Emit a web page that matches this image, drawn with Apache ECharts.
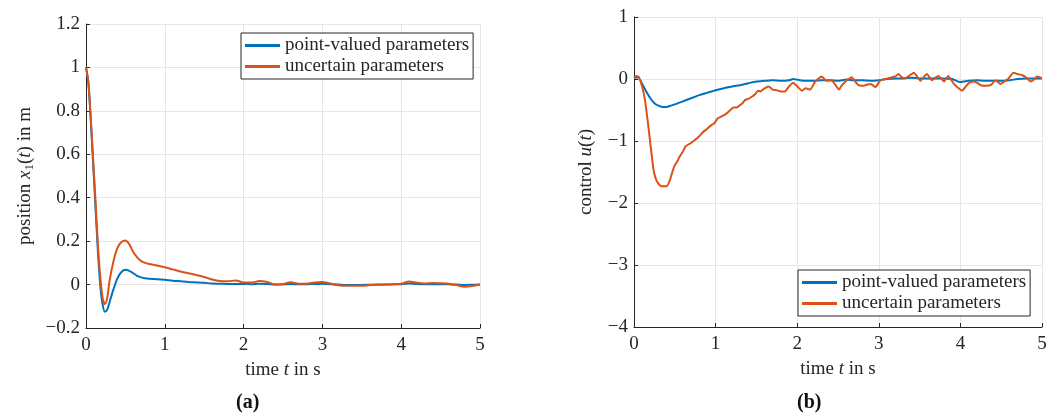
<!DOCTYPE html>
<html>
<head>
<meta charset="utf-8">
<script src="https://cdn.jsdelivr.net/npm/echarts@6/dist/echarts.min.js"></script>
<style>
  html, body { margin: 0; padding: 0; background: #fff; }
  #chart { width: 1057px; height: 417px; }
</style>
</head>
<body>
<div id="chart"></div>
<script>
// (a) position x1(t) over time
const timePos = [0, 0.03, 0.06, 0.09, 0.12, 0.15, 0.18, 0.21, 0.24, 0.27, 0.3, 0.35, 0.4, 0.45, 0.5, 0.55, 0.6, 0.65, 0.7, 0.75, 0.8, 0.9,
  1.0, 1.1, 1.2, 1.3, 1.4, 1.5, 1.6, 1.7, 1.8, 1.9, 2.0, 2.1, 2.2, 2.3, 2.4, 2.5, 2.6, 2.7, 2.8, 2.9,
  3.0, 3.1, 3.2, 3.3, 3.4, 3.5, 3.6, 3.7, 3.8, 3.9, 4.0, 4.1, 4.2, 4.3, 4.4, 4.5, 4.6, 4.7, 4.8, 4.9, 5.0];
const posPointValued = [1.0, 0.93, 0.76, 0.56, 0.36, 0.16, 0.0, -0.09, -0.125, -0.115, -0.08, -0.02, 0.03, 0.058, 0.068, 0.063, 0.052, 0.04, 0.033, 0.029, 0.027, 0.025,
  0.022, 0.018, 0.015, 0.012, 0.01, 0.008, 0.005, 0.004, 0.003, 0.003, 0.003, 0.002, 0.004, 0.003, 0.0, 0.001, 0.003, 0.001, 0.001, 0.003,
  0.004, 0.002, 0.0, -0.002, -0.002, -0.002, -0.001, 0.0, 0.0, 0.001, 0.002, 0.005, 0.003, 0.002, 0.002, 0.002, 0.001, 0.0, -0.002, -0.001, 0.0];
const posUncertain = [1.0, 0.93, 0.77, 0.58, 0.39, 0.19, 0.04, -0.06, -0.09, -0.06, 0.02, 0.11, 0.17, 0.196, 0.203, 0.185, 0.15, 0.125, 0.108, 0.1, 0.095, 0.088,
  0.08, 0.07, 0.06, 0.052, 0.044, 0.035, 0.023, 0.016, 0.015, 0.019, 0.01, 0.009, 0.016, 0.012, 0.0, 0.002, 0.011, 0.004, 0.004, 0.01,
  0.012, 0.005, -0.003, -0.006, -0.005, -0.006, -0.002, -0.001, 0.0, 0.001, 0.004, 0.014, 0.008, 0.005, 0.007, 0.006, 0.004, -0.002, -0.01, -0.007, 0.0];

// (b) control u(t) over time
const timeCtrlPoint = [0, 0.05, 0.1, 0.15, 0.2, 0.25, 0.3, 0.35, 0.4, 0.45, 0.5, 0.6, 0.7, 0.8, 0.9, 1.0, 1.1, 1.2, 1.3, 1.4, 1.5, 1.6, 1.7, 1.8, 1.9, 1.95,
  2.0, 2.1, 2.2, 2.3, 2.4, 2.5, 2.6, 2.7, 2.8, 2.9, 3.0, 3.1, 3.2, 3.3, 3.4, 3.5, 3.6, 3.7, 3.8, 3.9, 4.0, 4.1, 4.2, 4.3, 4.4, 4.5, 4.6, 4.7, 4.8, 4.9, 5.0];
const ctrlPointValued = [0.02, 0.03, -0.08, -0.2, -0.31, -0.39, -0.43, -0.45, -0.45, -0.43, -0.41, -0.36, -0.31, -0.26, -0.22, -0.18, -0.15, -0.12, -0.1, -0.07, -0.04, -0.03, -0.02, -0.03, -0.02, 0.0,
  -0.01, -0.03, -0.03, -0.02, -0.02, -0.03, -0.01, -0.02, -0.02, -0.03, -0.02, 0.0, 0.01, 0.01, 0.02, 0.01, 0.01, 0.01, 0.01, 0.0, -0.05, -0.03, -0.02, -0.03, -0.03, -0.03, -0.02, 0.0, 0.01, 0.01, 0.01];
const timeCtrlUncertain = [0, 0.03, 0.06, 0.1, 0.135, 0.17, 0.2, 0.24, 0.27, 0.3, 0.34, 0.4, 0.44, 0.47, 0.5, 0.53, 0.56, 0.6, 0.63, 0.66, 0.69, 0.73, 0.77, 0.81, 0.85, 0.9, 0.95, 0.98,
  1.03, 1.08, 1.14, 1.18, 1.22, 1.26, 1.3, 1.33, 1.36, 1.4, 1.44, 1.48, 1.52, 1.55, 1.6, 1.65, 1.7, 1.75, 1.8, 1.85, 1.9, 1.95,
  2.0, 2.06, 2.1, 2.16, 2.22, 2.3, 2.36, 2.42, 2.46, 2.51, 2.55, 2.59, 2.67, 2.71, 2.75, 2.8, 2.86, 2.9, 2.96,
  3.02, 3.08, 3.14, 3.2, 3.24, 3.28, 3.32, 3.38, 3.43, 3.47, 3.51, 3.55, 3.59, 3.65, 3.69, 3.73, 3.8, 3.85, 3.92, 3.97,
  4.02, 4.06, 4.1, 4.16, 4.2, 4.25, 4.31, 4.37, 4.43, 4.49, 4.55, 4.59, 4.65, 4.7, 4.76, 4.81, 4.86, 4.9, 4.94, 5.0];
const ctrlUncertain = [0.02, 0.05, 0.03, -0.12, -0.34, -0.7, -1.04, -1.47, -1.62, -1.69, -1.73, -1.73, -1.63, -1.5, -1.39, -1.33, -1.25, -1.17, -1.09, -1.06, -1.04, -1.0, -0.96, -0.91, -0.85, -0.8, -0.74, -0.72,
  -0.63, -0.6, -0.55, -0.5, -0.46, -0.46, -0.42, -0.39, -0.34, -0.32, -0.29, -0.25, -0.19, -0.2, -0.15, -0.12, -0.17, -0.18, -0.2, -0.2, -0.12, -0.06,
  -0.12, -0.19, -0.15, -0.17, -0.04, 0.04, -0.03, -0.02, -0.08, -0.17, -0.1, -0.04, 0.03, -0.04, -0.1, -0.11, -0.09, -0.08, -0.13,
  -0.02, 0.0, 0.02, 0.04, 0.08, 0.03, 0.01, 0.06, 0.1, 0.04, -0.03, 0.03, 0.08, -0.02, 0.02, 0.05, -0.04, 0.05, -0.08, -0.14,
  -0.19, -0.13, -0.07, -0.04, -0.06, -0.1, -0.11, -0.1, -0.02, -0.08, -0.03, 0.01, 0.1, 0.08, 0.06, 0.02, -0.04, -0.01, 0.04, 0.01];

const seriesNames = ['point-valued parameters', 'uncertain parameters'];
const xTicks = { min: 0, max: 5, interval: 1 };
const yTicksPos = { min: -0.2, max: 1.2, interval: 0.2 };
const yTicksCtrl = { min: -4, max: 1, interval: 1 };

const BLUE = '#0072BD';
const ORANGE = '#D95319';
const INK = '#262626';
const GRID = '#e6e6e6';
const SERIF = '"Liberation Serif", "DejaVu Serif", serif';
const FS = 19;

const zip = (xs, ys) => xs.map((x, i) => [x, ys[i]]);
const fmt = v => {
  const n = parseFloat(Number(v).toFixed(2));
  return n < 0 ? '\u2212' + String(-n) : String(n);
};

const richBase = {
  i: { fontStyle: 'italic', fontFamily: SERIF, fontSize: FS, color: INK, lineHeight: 22 },
  r: { fontFamily: SERIF, fontSize: FS, color: INK, lineHeight: 22 },
  s: { fontFamily: SERIF, fontSize: 13, color: INK, lineHeight: 12, verticalAlign: 'bottom' }
};

function xAxis(gridIndex) {
  return {
    type: 'value', gridIndex, ...xTicks,
    name: '{r|time }{i|t}{r| in s}', nameLocation: 'middle', nameGap: 31,
    nameTextStyle: { rich: richBase },
    axisLine: { show: true, onZero: false, lineStyle: { color: INK, width: 1 } },
    axisTick: { show: true, inside: true, length: 4, lineStyle: { color: INK } },
    axisLabel: { margin: 8, fontFamily: SERIF, fontSize: FS, color: INK, formatter: fmt },
    splitLine: { show: true, lineStyle: { color: GRID, width: 1 } }
  };
}
function yAxis(gridIndex, ticks, name, gap) {
  return {
    type: 'value', gridIndex, ...ticks,
    name, nameLocation: 'middle', nameGap: gap, nameRotate: 90,
    nameTextStyle: { rich: richBase },
    axisLine: { show: true, onZero: false, lineStyle: { color: INK, width: 1 } },
    axisTick: { show: true, inside: true, length: 4, lineStyle: { color: INK } },
    axisLabel: { margin: 6, fontFamily: SERIF, fontSize: FS, color: INK, formatter: fmt },
    splitLine: { show: true, lineStyle: { color: GRID, width: 1 } }
  };
}
function legend(left, top) {
  return {
    data: seriesNames, orient: 'vertical', left, top,
    padding: [3, 4, 3, 4], itemGap: 2, itemWidth: 35, itemHeight: 3, icon: 'rect',
    borderColor: INK, borderWidth: 1, backgroundColor: '#fff',
    selectedMode: false,
    textStyle: { fontFamily: SERIF, fontSize: FS, color: INK, padding: [0, 0, 0, 0] }
  };
}
function line(name, data, color, xi, smooth) {
  return {
    type: 'line', name, data, xAxisIndex: xi, yAxisIndex: xi,
    showSymbol: false, smooth, animation: false,
    lineStyle: { color, width: 2 }, itemStyle: { color }
  };
}

const chart = echarts.init(document.getElementById('chart'));
chart.setOption({
  animation: false,
  grid: [
    { left: 86, right: 577, top: 24, bottom: 89 },
    { left: 634, right: 15, top: 17, bottom: 90 }
  ],
  xAxis: [xAxis(0), xAxis(1)],
  yAxis: [
    yAxis(0, yTicksPos, '{r|position }{i|x}{s|1}{r|(}{i|t}{r|) in m}', 50),
    yAxis(1, yTicksCtrl, '{r|control }{i|u}{r|(}{i|t}{r|)}', 37)
  ],
  legend: [legend(241, 33), legend(798, 270)],
  series: [
    line(seriesNames[0], zip(timePos, posPointValued), BLUE, 0, 0.3),
    line(seriesNames[1], zip(timePos, posUncertain), ORANGE, 0, 0.3),
    line(seriesNames[0], zip(timeCtrlPoint, ctrlPointValued), BLUE, 1, 0.2),
    line(seriesNames[1], zip(timeCtrlUncertain, ctrlUncertain), ORANGE, 1, 0.15)
  ],
  graphic: [
    { type: 'text', left: 236, top: 393, style: { text: '(a)', font: 'bold 20px "Liberation Serif", serif', fill: '#111' } },
    { type: 'text', left: 797, top: 393, style: { text: '(b)', font: 'bold 20px "Liberation Serif", serif', fill: '#111' } }
  ]
});
</script>
</body>
</html>
